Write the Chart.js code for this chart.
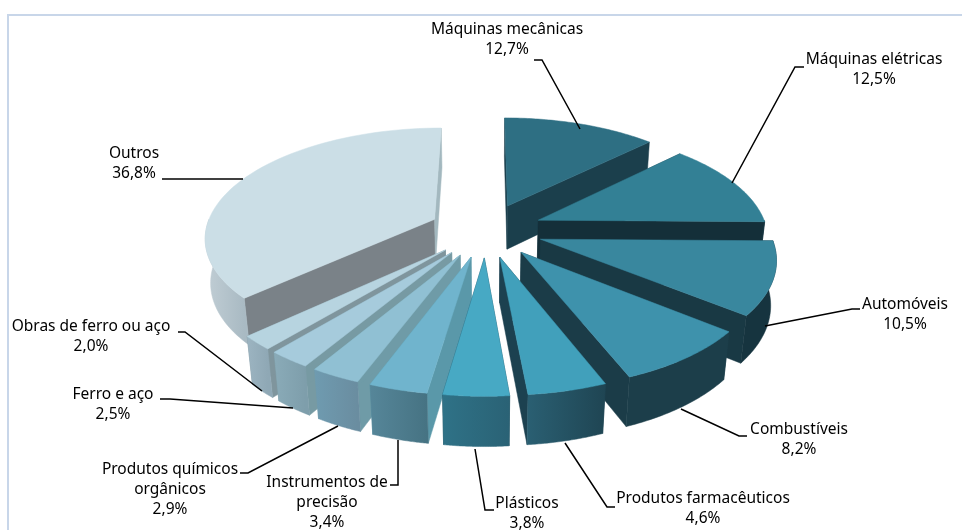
<!DOCTYPE html>
<html>
<head>
<meta charset="utf-8">
<title>Exportações por produto</title>
<script src="https://cdn.jsdelivr.net/npm/chart.js@4"></script>
<style>
  html, body { margin: 0; padding: 0; background: #fff; }
  canvas { display: block; }
</style>
</head>
<body>
<canvas id="grafico" width="962" height="530"></canvas>
<script>
// Data
const categorias = ['Máquinas mecânicas', 'Máquinas elétricas', 'Automóveis', 'Combustíveis',
    'Produtos farmacêuticos', 'Plásticos', 'Instrumentos de precisão', 'Produtos químicos orgânicos',
    'Ferro e aço', 'Obras de ferro ou aço', 'Outros'];
const valores = [12.7, 12.5, 10.5, 8.2, 4.6, 3.8, 3.4, 2.9, 2.5, 2.0, 36.8];

// Colours per slice
const coresTopo = ['#2e6f83', '#338095', '#39879e', '#3e92ac', '#41a0bb', '#47a9c4', '#70b4cd', '#90c0d3', '#a6cbdc', '#b7d4e0', '#cbdee6'];
const coresInicio = ['#1b3f4c', '#1a3f4c', '#16343f', '#1b3c48', '#1c4150', '#1d4654', '#5a98a9', '#6f9ba7', '#779aa3', '#7f959d', '#7a8288'];
const coresFim = ['#1b3f4c', '#142f39', '#193944', '#1b3c48', '#1c4150', '#1d4654', '#5a98a9', '#6f9ba7', '#779aa3', '#7f959d', '#a3b8bf'];
const coresLadoEsq = ['#1b3f4c', '#16343f', '#16343f', '#1c3e4a', '#2a5f72', '#2f7287', '#568699', '#6f9bb0', '#8aabb8', '#9cb4c1', '#c1ced5'];
const coresLadoDir = ['#1b3f4c', '#16343f', '#16343f', '#1c3e4a', '#1f4553', '#2a6275', '#467383', '#6a8da0', '#7e9eab', '#8fa8b5', '#a9bac3'];

// Label text lines and leader lines, same order as categorias
const linhasTexto = [['Máquinas mecânicas'], ['Máquinas elétricas'], ['Automóveis'], ['Combustíveis'],
    ['Produtos farmacêuticos'], ['Plásticos'], ['Instrumentos de', 'precisão'], ['Produtos químicos', 'orgânicos'],
    ['Ferro e aço'], ['Obras de ferro ou aço'], ['Outros']];
const posTexto = [[507, 30], [874, 60], [905, 305], [799, 430], [703, 499], [527, 504], [327, 483], [170, 470], [113, 395], [91, 327], [134, 154]];
const guias = [
    [[534, 60], [542, 60], [580, 129]],
    [[804, 67], [795, 67], [732, 183]],
    [[860, 309], [852, 309], [765, 326]],
    [[747, 436], [739, 436], [681, 409]],
    [[615, 507], [607, 507], [565, 443]],
    [[494, 510], [485, 510], [475, 449]],
    [[390, 485], [398, 485], [398, 440]],
    [[240, 473], [248, 473], [338, 426]],
    [[160, 399], [170, 399], [293, 408]],
    [[178, 332], [185, 332], [262, 391]],
    [[162, 179], [243, 179]]
];

// 3D view of the pie
const ACHATAMENTO = 0.472;
const DISTANCIA = 1518;
const ALTURA = 45;

const pizza3d = {
    id: 'pizza3d',
    beforeDraw(chart) {
        const ctx = chart.ctx;
        ctx.save();
        ctx.fillStyle = '#ffffff';
        ctx.fillRect(0, 0, 962, 530);
        ctx.strokeStyle = '#c8d6e9';
        ctx.lineWidth = 2;
        ctx.beginPath();
        ctx.moveTo(8, 530);
        ctx.lineTo(8, 15);
        ctx.lineTo(962, 15);
        ctx.stroke();
        ctx.restore();
    },
    beforeDatasetsDraw(chart) {
        const ctx = chart.ctx;
        const arcos = chart.getDatasetMeta(0).data;

        const projetar = (cx, cy, X, Y, z) => {
            const g = DISTANCIA / (DISTANCIA + Y + 0.66 * z);
            return { x: cx + X * g, y: cy - ACHATAMENTO * Y * g + z * g };
        };

        // back to front
        const ordem = arcos.map((arco, i) => ({ arco, i })).sort((a, b) => {
            const meio = o => (o.arco.startAngle + o.arco.endAngle) / 2;
            return Math.sin(meio(a)) - Math.sin(meio(b));
        });

        const poligono = (pontos, cor) => {
            ctx.beginPath();
            pontos.forEach((p, n) => n ? ctx.lineTo(p.x, p.y) : ctx.moveTo(p.x, p.y));
            ctx.closePath();
            ctx.fillStyle = cor;
            ctx.strokeStyle = cor;
            ctx.lineWidth = 0.5;
            ctx.fill();
            ctx.stroke();
        };

        ctx.save();
        ordem.forEach(({ arco, i }) => {
            const { x: cx, y: cy, startAngle: a0, endAngle: a1, outerRadius: R } = arco;
            const off = arco.options.offset;
            const meio = (a0 + a1) / 2;
            const ox = Math.cos(meio) * off;
            const oy = -Math.sin(meio) * off;
            const ponto = (a, r, z) => projetar(cx, cy, ox + r * Math.cos(a), oy - r * Math.sin(a), z);

            // radial faces
            poligono([ponto(a0, 0, 0), ponto(a0, R, 0), ponto(a0, R, ALTURA), ponto(a0, 0, ALTURA)], coresInicio[i]);
            poligono([ponto(a1, 0, 0), ponto(a1, R, 0), ponto(a1, R, ALTURA), ponto(a1, 0, ALTURA)], coresFim[i]);

            // outer face, only the part turned to the viewer (angles 0 to PI in canvas terms)
            const de = Math.max(a0, 0);
            const ate = Math.min(a1, Math.PI);
            if (ate > de) {
                const cima = [], baixo = [];
                for (let n = 0; n <= 40; n++) {
                    const a = de + (ate - de) * n / 40;
                    cima.push(ponto(a, R, 0));
                    baixo.unshift(ponto(a, R, ALTURA));
                }
                const xs = cima.map(p => p.x);
                const grad = ctx.createLinearGradient(Math.min(...xs), 0, Math.max(...xs), 0);
                grad.addColorStop(0, coresLadoEsq[i]);
                grad.addColorStop(1, coresLadoDir[i]);
                poligono(cima.concat(baixo), grad);
            }

            // top
            const topo = [ponto(a0, 0, 0)];
            for (let n = 0; n <= 60; n++) topo.push(ponto(a0 + (a1 - a0) * n / 60, R, 0));
            poligono(topo, arco.options.backgroundColor);
        });
        ctx.restore();

        // leader lines and labels
        ctx.save();
        ctx.strokeStyle = '#000000';
        ctx.lineWidth = 1.5;
        guias.forEach(g => {
            ctx.beginPath();
            g.forEach((p, n) => n ? ctx.lineTo(p[0], p[1]) : ctx.moveTo(p[0], p[1]));
            ctx.stroke();
        });
        ctx.fillStyle = '#000000';
        ctx.font = '15.5px "Noto Sans"';
        ctx.textAlign = 'center';
        ctx.textBaseline = 'middle';
        linhasTexto.forEach((linhas, i) => {
            const [tx, ty] = posTexto[i];
            const todas = linhas.concat(valores[i].toFixed(1).replace('.', ',') + '%');
            todas.forEach((t, n) => ctx.fillText(t, tx, ty + n * 20));
        });
        ctx.restore();
        return false;
    }
};

new Chart(document.getElementById('grafico').getContext('2d'), {
    type: 'pie',
    data: {
        labels: categorias,
        datasets: [{
            data: valores,
            backgroundColor: coresTopo,
            borderWidth: 0,
            offset: 57
        }]
    },
    options: {
        responsive: false,
        animation: false,
        radius: 229,
        events: [],
        layout: { padding: { left: 10, bottom: 70 } },
        plugins: { legend: { display: false }, tooltip: { enabled: false } }
    },
    plugins: [pizza3d]
});
</script>
</body>
</html>
